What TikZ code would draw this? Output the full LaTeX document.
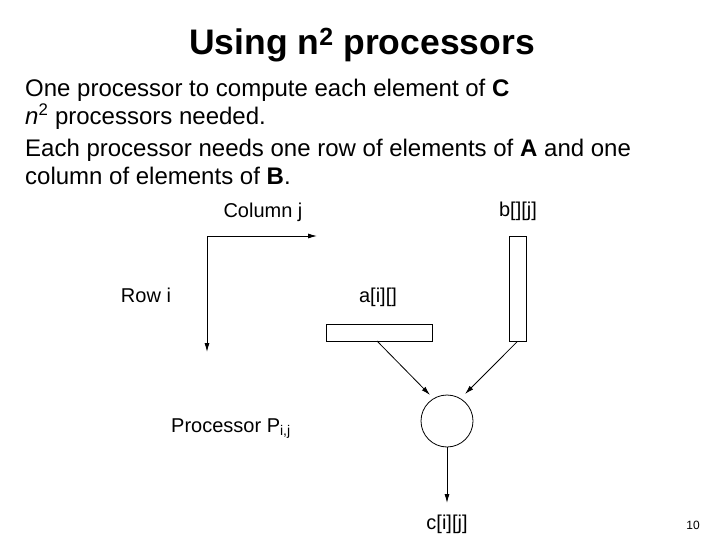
\documentclass[tikz,border=0pt]{standalone}
\usepackage{fontspec}
\setmainfont{Liberation Sans}
\usetikzlibrary{arrows.meta}
\begin{document}
\begin{tikzpicture}[x=1pt,y=-1pt,
  lbl/.style={font=\fontsize{20}{22}\selectfont, inner sep=0pt, anchor=base},
  bodytext/.style={font=\fontsize{24}{27}\selectfont, inner sep=0pt, anchor=base west},
  arr/.style={line width=0.8pt, -{Latex[length=9pt,width=5pt]}},
  box/.style={draw, line width=0.8pt, inner sep=0pt}]
\useasboundingbox (0,0) rectangle (720,540);
\node[font=\bfseries\fontsize{35.5}{38}\selectfont, inner sep=0pt, anchor=base] (title) at (362,55) {Using n\textsuperscript{2} processors};
\node[bodytext] (l1) at (25,97) {One processor to compute each element of \textbf{C}};
\node[bodytext] (l2) at (25,125) {\textit{n}\textsuperscript{2} processors needed.};
\node[bodytext] (l3) at (25,157) {Each processor needs one row of elements of \textbf{A} and one};
\node[bodytext] (l4) at (25,185) {column of elements of \textbf{B}.};
% labels
\node[lbl] (colj) at (263,218) {Column j};
\node[lbl] (rowi) at (146,302) {Row i};
\node[lbl] (alab) at (378,302) {a[i][]};
\node[lbl] (blab) at (518,217) {b[][j]};
\node[lbl, anchor=base west] (proc) at (171,432) {Processor P\textsubscript{i,j}};
\node[lbl] (clab) at (447,529) {c[i][j]};
\node[font=\fontsize{12}{14}\selectfont, inner sep=0pt, anchor=base] (pg) at (693,529) {10};
% L arrow
\coordinate (corner) at (207,236);
\coordinate (colend) at (317,236);
\coordinate (rowend) at (207,352);
\draw[line width=0.8pt, {Latex[length=9pt,width=5pt]}-{Latex[length=9pt,width=5pt]}] (rowend) -- (corner) -- (colend);
% boxes
\node[box, minimum width=106pt, minimum height=17pt] (a) at (379,332.5) {};
\node[box, minimum width=17pt, minimum height=105pt] (b) at (517.5,288.5) {};
\node[draw, circle, line width=0.8pt, minimum size=52pt, inner sep=0pt] (p) at (447,421) {};
\coordinate (astart) at (377,341);
\coordinate (pa) at (430,395);
\coordinate (pb) at (465,394);
\coordinate (pout) at (447,503);
\draw[arr] (astart) -- (pa);
\draw[arr] (b.south) -- (pb);
\draw[arr] (p.south) -- (pout);
\end{tikzpicture}
\end{document}
